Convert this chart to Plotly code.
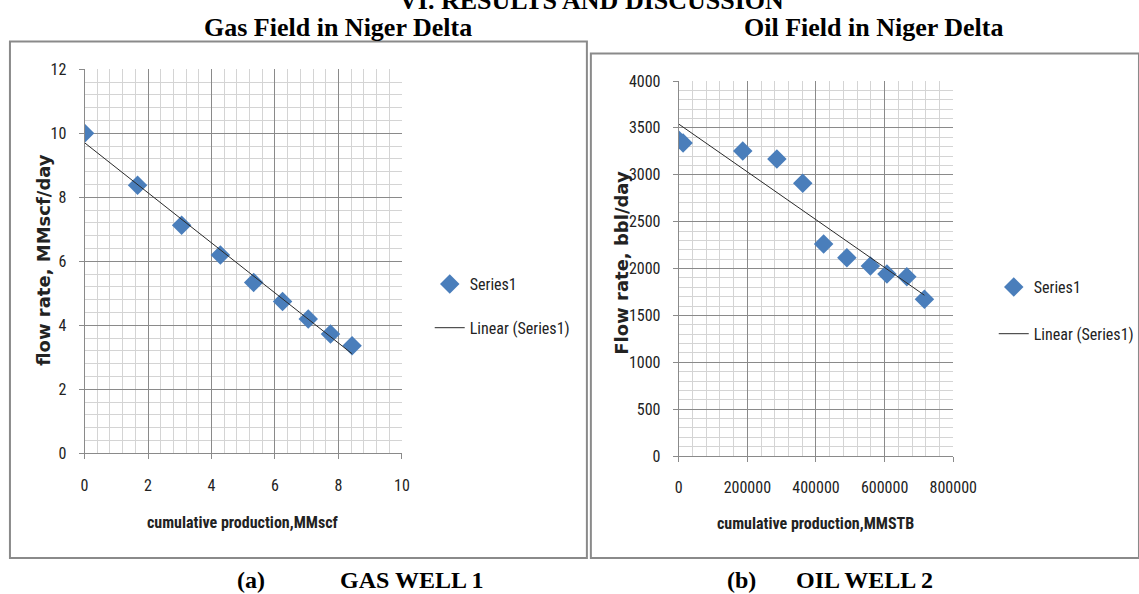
import numpy as np
import plotly.graph_objects as go

W, H = 1139, 594

# ---- data ----
gas_cum = [0.0, 1.67, 3.06, 4.28, 5.33, 6.24, 7.05, 7.75, 8.43]
gas_rate = [10.0, 8.38, 7.13, 6.20, 5.34, 4.74, 4.20, 3.73, 3.36]
oil_cum = [0, 12750, 186700, 286000, 361400, 422300, 490000, 558500, 606800, 664700, 716000]
oil_rate = [3370, 3340, 3253, 3168, 2909, 2261, 2116, 2027, 1941, 1913, 1671]

gas_xticks = [0, 2, 4, 6, 8, 10]
gas_yticks = [0, 2, 4, 6, 8, 10, 12]
oil_xticks = [0, 200000, 400000, 600000, 800000]
oil_yticks = [0, 500, 1000, 1500, 2000, 2500, 3000, 3500, 4000]


def trend(x, y):
    k, b = np.polyfit(np.array(x, float), np.array(y, float), 1)
    xs = np.array([min(x), max(x)], float)
    return xs, k * xs + b


def px(x):
    return x / W


def py(y):
    return 1 - y / H


BLUE = "#4A7EBB"
MAJ = "#8a8a8a"
MIN = "#d4d4d4"
NARROW = "Roboto Condensed, Liberation Sans Narrow, DejaVu Sans Condensed, sans-serif"
SERIF = "Liberation Serif, Times New Roman, serif"

fig = go.Figure()

gx, gy = trend(gas_cum, gas_rate)
ox, oy = trend(oil_cum, oil_rate)

fig.add_trace(go.Scatter(x=gas_cum, y=gas_rate, mode="markers", name="Series1",
                         marker=dict(symbol="diamond", size=15, color=BLUE),
                         xaxis="x", yaxis="y", legend="legend", legendgroup="a"))
fig.add_trace(go.Scatter(x=gx, y=gy, mode="lines", name="Linear (Series1)",
                         line=dict(color="#2a2a2a", width=1),
                         xaxis="x", yaxis="y", legend="legend", legendgroup="b"))
fig.add_trace(go.Scatter(x=oil_cum, y=oil_rate, mode="markers", name="Series1",
                         marker=dict(symbol="diamond", size=15, color=BLUE),
                         xaxis="x2", yaxis="y2", legend="legend2", legendgroup="c"))
fig.add_trace(go.Scatter(x=ox, y=oy, mode="lines", name="Linear (Series1)",
                         line=dict(color="#2a2a2a", width=1),
                         xaxis="x2", yaxis="y2", legend="legend2", legendgroup="d"))

tickfont = dict(family=NARROW, size=16, color="#222")


def axis(domain, rng, ticks, minor, anchor, standoff):
    return dict(domain=domain, range=rng, tickmode="array", tickvals=ticks,
                ticktext=[str(t) for t in ticks], showgrid=True, gridcolor=MAJ,
                gridwidth=1, minor=dict(dtick=minor, tick0=0, showgrid=True,
                                        gridcolor=MIN, gridwidth=1),
                showline=True, linecolor=MAJ, linewidth=1, ticks="outside",
                ticklen=5, tickcolor=MAJ, tickfont=tickfont, zeroline=False,
                anchor=anchor, automargin=False, ticklabelstandoff=standoff,
                fixedrange=True)


legfont = dict(family=NARROW, size=16, color="#222")
layout = dict(
    width=W, height=H, margin=dict(l=0, r=0, t=0, b=0), autosize=False,
    paper_bgcolor="white", plot_bgcolor="white", template="none",
    xaxis=axis([px(85), px(404)], [0, 10], gas_xticks, 0.4, "y", 12),
    yaxis=axis([py(453.3), py(69.3)], [0, 12], gas_yticks, 0.4, "x", 9),
    xaxis2=axis([px(682.3), px(958.3)], [0, 800000], oil_xticks, 40000, "y2", 12),
    yaxis2=axis([py(456), py(81)], [0, 4000], oil_yticks, 100, "x2", 9),
    legend=dict(x=px(432), y=py(267), xanchor="left", yanchor="top",
                bgcolor="rgba(0,0,0,0)", font=legfont,
                tracegroupgap=20, traceorder="grouped"),
    legend2=dict(x=px(999), y=py(270), xanchor="left", yanchor="top",
                 bgcolor="rgba(0,0,0,0)", font=legfont,
                 tracegroupgap=23, traceorder="grouped"),
    showlegend=True,
)
fig.update_layout(**layout)

# outer frames
fig.add_shape(type="rect", xref="paper", yref="paper", x0=px(10), x1=px(590),
              y0=py(558), y1=py(41.5), line=dict(color="#8a8a8a", width=2), layer="below")
fig.add_shape(type="rect", xref="paper", yref="paper", x0=px(594), x1=px(1145),
              y0=py(558), y1=py(53.5), line=dict(color="#8a8a8a", width=2), layer="below")


def ann(text, x, y, font, xanchor="center", yanchor="middle", angle=0):
    fig.add_annotation(text=text, x=px(x), y=py(y), xref="paper", yref="paper",
                       showarrow=False, font=font, xanchor=xanchor, yanchor=yanchor,
                       textangle=angle)


serif_b = dict(family=SERIF, size=26, color="black")
ann("<b>VI. RESULTS AND DISCUSSION</b>", 595, 0.5, serif_b)
ann("<b>Gas Field in Niger Delta</b>", 340, 27.5, serif_b)
ann("<b>Oil Field in Niger Delta</b>", 879, 27.5, serif_b)
cap = dict(family=SERIF, size=24, color="black")
ann("<b>(a)</b>", 252, 580, cap)
ann("<b>GAS WELL 1</b>", 340, 580, cap, xanchor="left")
ann("<b>(b)</b>", 745, 580, cap)
ann("<b>OIL WELL 2</b>", 798, 580, cap, xanchor="left")

xt = dict(family=NARROW, size=16, color="#222")
ann("<b>cumulative production,MMscf</b>", 244, 522, xt)
ann("<b>cumulative production,MMSTB</b>", 820, 523, xt)
yt = dict(family="DejaVu Sans, Verdana, sans-serif", size=18, color="#222")
ann("<b>flow rate, MMscf/day</b>", 43, 260, yt, angle=-90)
ann("<b>Flow rate, bbl/day</b>", 625, 263, yt, angle=-90)

post = ("document.body.style.margin='0';document.body.style.padding='0';"
        "document.body.style.overflow='hidden';"
        "document.documentElement.style.overflow='hidden';"
        "var gd=document.getElementById('{plot_id}');Plotly.Plots.resize(gd);")
fig.write_html("out.html", post_script=post, config={"displayModeBar": False})
